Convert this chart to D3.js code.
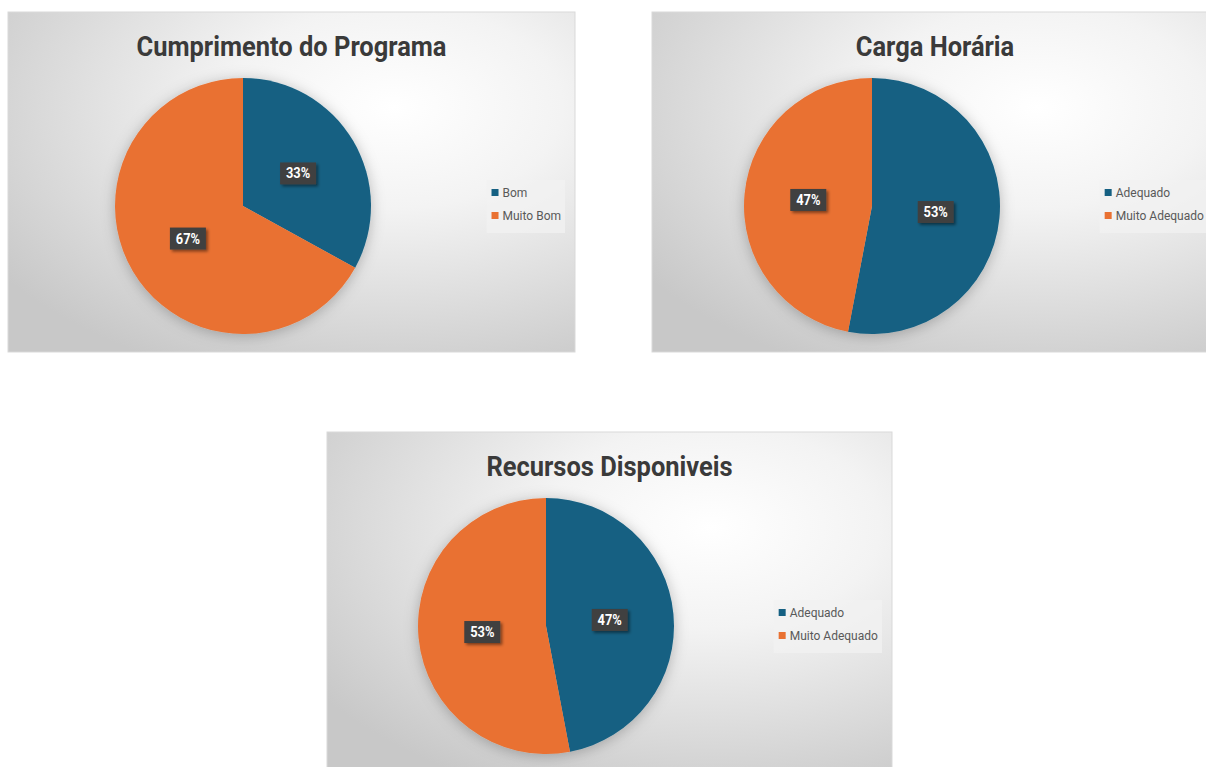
<!DOCTYPE html>
<html>
<head>
<meta charset="UTF-8">
<title>Avaliação</title>
<script src="https://cdn.jsdelivr.net/npm/d3@7"></script>
<style>
body { margin:0; background:#fff; }
svg { display:block; }
</style>
</head>
<body>
<svg id="mySVG" width="1206" height="767"></svg>
<script>
//---chart data---
var titles = ["Cumprimento do Programa", "Carga Horária", "Recursos Disponiveis"]
var cats1 = ["Bom", "Muito Bom"]
var vals1 = [33, 67]
var cats2 = ["Adequado", "Muito Adequado"]
var vals2 = [53, 47]
var cats3 = ["Adequado", "Muito Adequado"]
var vals3 = [47, 53]
var sliceColors = ["#156082", "#E97132"]

var svg = d3.select("#mySVG")
var defs = svg.append("defs")

var bg = defs.append("radialGradient")
  .attr("id", "panelBg")
  .attr("cx", "68%").attr("cy", "28%").attr("r", "85%")
bg.append("stop").attr("offset", "0%").attr("stop-color", "#ffffff")
bg.append("stop").attr("offset", "35%").attr("stop-color", "#f3f3f3")
bg.append("stop").attr("offset", "100%").attr("stop-color", "#c8c8c8")

var pieShadow = defs.append("filter").attr("id", "pieShadow")
  .attr("x", "-20%").attr("y", "-20%").attr("width", "140%").attr("height", "140%")
pieShadow.append("feDropShadow").attr("dx", 0).attr("dy", 2).attr("stdDeviation", 7)
  .attr("flood-color", "#000").attr("flood-opacity", 0.25)

var boxShadow = defs.append("filter").attr("id", "boxShadow")
  .attr("x", "-30%").attr("y", "-30%").attr("width", "170%").attr("height", "170%")
boxShadow.append("feDropShadow").attr("dx", 2).attr("dy", 2).attr("stdDeviation", 1.5)
  .attr("flood-color", "#000").attr("flood-opacity", 0.45)

//---one pie panel---
function buildPie(title, cats, vals, x0, y0, w, h, cx)
{
  var g = svg.append("g").attr("transform", "translate(" + x0 + "," + y0 + ")")

  g.append("rect")
    .attr("width", w).attr("height", h)
    .attr("fill", "url(#panelBg)")
    .attr("stroke", "#d9d9d9").attr("stroke-width", 1)

  // narrow bold title: squeeze a normal font horizontally
  g.append("text")
    .attr("transform", "translate(" + (w / 2) + ",44) scale(0.91,1)")
    .attr("text-anchor", "middle")
    .attr("font-family", "Roboto, 'Liberation Sans', sans-serif")
    .attr("font-weight", "bold")
    .attr("font-size", "28px")
    .attr("fill", "#3a3a3a")
    .text(title)

  var radius = 128
  var cy = 194
  var pie = d3.pie().sort(null).value(function(d) { return d })
  var arcs = pie(vals)
  var arc = d3.arc().innerRadius(0).outerRadius(radius)
  var labelArc = d3.arc().innerRadius(radius * 0.5).outerRadius(radius * 0.5)

  var pg = g.append("g").attr("transform", "translate(" + cx + "," + cy + ")")
  pg.append("g").attr("filter", "url(#pieShadow)")
    .selectAll("path").data(arcs).enter().append("path")
    .attr("d", arc)
    .attr("fill", function(d, i) { return sliceColors[i] })

  var total = d3.sum(vals)
  var lab = pg.selectAll("g.lab").data(arcs).enter().append("g")
    .attr("class", "lab")
    .attr("transform", function(d) { return "translate(" + labelArc.centroid(d) + ")" })
  lab.append("rect")
    .attr("x", -18).attr("y", -11).attr("width", 36).attr("height", 22)
    .attr("fill", "#404040")
    .attr("filter", "url(#boxShadow)")
  lab.append("text")
    .attr("text-anchor", "middle").attr("dy", "0.36em")
    .attr("transform", "scale(0.92,1)")
    .attr("font-family", "Roboto, 'Liberation Sans', sans-serif")
    .attr("font-weight", "bold").attr("font-size", "14px")
    .attr("fill", "#ffffff")
    .text(function(d) { return Math.round(d.data / total * 100) + "%" })

  //---legend, right aligned---
  var lg = g.append("g")
  var items = lg.selectAll("g").data(cats).enter().append("g")
    .attr("transform", function(d, i) { return "translate(0," + (181 + i * 23) + ")" })
  items.append("rect")
    .attr("x", 5).attr("y", -4).attr("width", 7).attr("height", 7)
    .attr("fill", function(d, i) { return sliceColors[i] })
  items.append("text")
    .attr("x", 16).attr("dy", "0.35em")
    .attr("font-family", "Roboto, 'Liberation Sans', sans-serif")
    .attr("font-size", "12px")
    .attr("fill", "#595959")
    .text(function(d) { return d })
  var lw = lg.node().getBBox().width + 9
  lg.insert("rect", ":first-child")
    .attr("x", 0).attr("y", 168).attr("width", lw).attr("height", 53)
    .attr("fill", "#f2f2f2").attr("fill-opacity", 0.75)
  lg.attr("transform", "translate(" + (w - 10 - lw) + ",0)")
}

buildPie(titles[0], cats1, vals1, 8, 12, 567, 340, 235)
buildPie(titles[1], cats2, vals2, 652, 12, 566, 340, 220)
buildPie(titles[2], cats3, vals3, 327, 432, 565, 340, 219)
</script>
</body>
</html>
